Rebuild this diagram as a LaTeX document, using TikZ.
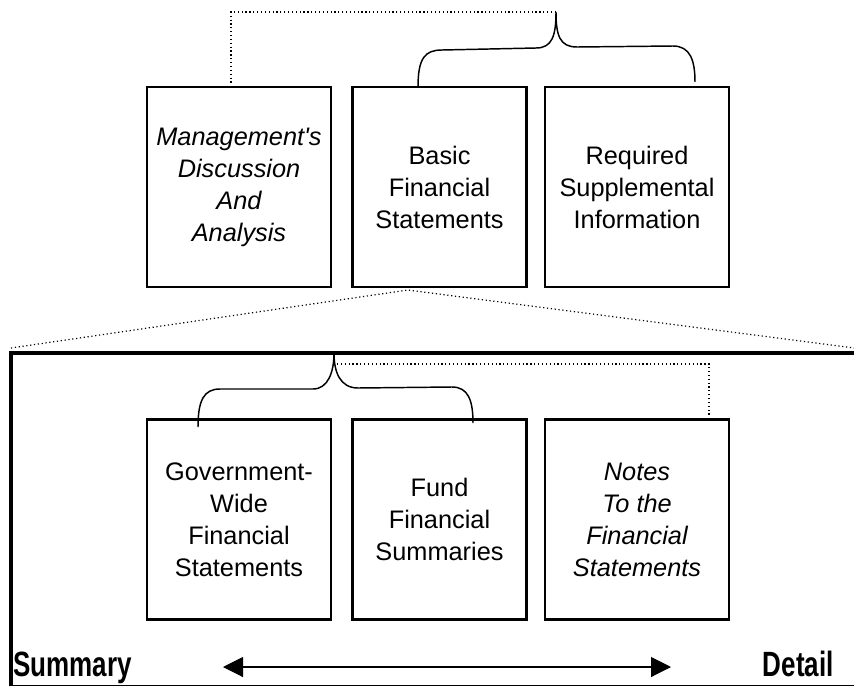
\documentclass[tikz,border=0pt]{standalone}
\usepackage{fontspec}
\setmainfont{Liberation Sans}
\usetikzlibrary{arrows.meta}
\newcommand{\tallword}[1]{\scalebox{1}[1.35]{#1}}
\tikzset{
  part/.style={draw,line width=2.2pt,minimum height=150pt,inner sep=0pt,
    align=center,font=\fontsize{19}{24}\selectfont},
  wide/.style={minimum width=138pt},
  narrow/.style={minimum width=131pt},
  brace/.style={line width=1.1pt},
  link/.style={dotted,line width=0.9pt},
  endlabel/.style={inner sep=0pt,font=\fontsize{19.5}{22}\selectfont\bfseries}
}
\begin{document}
\begin{tikzpicture}[x=0.75pt,y=-0.75pt]
\useasboundingbox (0,0) rectangle (854,686);
% annual report parts
\node[part,wide] (mda) at (239,187) {\itshape Management\textquotesingle s\\\itshape Discussion\\\itshape And\\\itshape Analysis};
\node[part,narrow] (bfs) at (439.5,187) {Basic\\Financial\\Statements};
\node[part,wide] (rsi) at (637,187) {Required\\Supplemental\\Information};
%
\coordinate (toptip) at (556,12);
\coordinate (mdatop) at (231,85);
\draw[link] (toptip) -| (mdatop);
\draw[brace] (418,87) .. controls (418,58) and (425,50) .. (442,50)
  -- (536,48) .. controls (552,48) and (556,36) .. (toptip)
  .. controls (556,36) and (560,47) .. (577,47)
  -- (673,46) .. controls (690,46) and (695,60) .. (695,82);
%
% zoom on the basic statements
\coordinate (apex) at (408,290);
\coordinate (zl) at (11,348);
\coordinate (zr) at (854,348);
\draw[link] (zl) -- (apex) -- (zr);
\begin{scope}
\clip (0,0) rectangle (854,686);
\draw[line width=2.4pt] (11,353) rectangle (880,686.5);
\end{scope}
%
\node[part,wide] (gwf) at (239,519.5) {Government-\\Wide\\Financial\\Statements};
\node[part,narrow] (ffs) at (439.5,519.5) {Fund\\Financial\\Summaries};
\node[part,wide] (nfs) at (637,519.5) {\itshape Notes\\\itshape To the\\\itshape Financial\\\itshape Statements};
%
\coordinate (lowtip) at (334,353);
\coordinate (nfstop) at (709,416);
\draw[link] (337,364) -| (nfstop);
\draw[brace] (198,427) .. controls (198,400) and (204,389) .. (220,389)
  -- (313,389) .. controls (328,389) and (334,372) .. (lowtip)
  .. controls (334,372) and (340,388) .. (358,388)
  -- (452,387) .. controls (468,387) and (473,400) .. (473,423);
%
% summary to detail scale
\node[endlabel,anchor=base west] (sum) at (13,676) {\tallword{Summary}};
\node[endlabel,anchor=base east] (det) at (834,676) {\tallword{Detail}};
\coordinate (lft) at (223,667);
\coordinate (rgt) at (671,667);
\draw[{Triangle[length=15pt,width=15pt]}-{Triangle[length=15pt,width=15pt]},line width=0.8pt] (lft) -- (rgt);
\end{tikzpicture}
\end{document}
